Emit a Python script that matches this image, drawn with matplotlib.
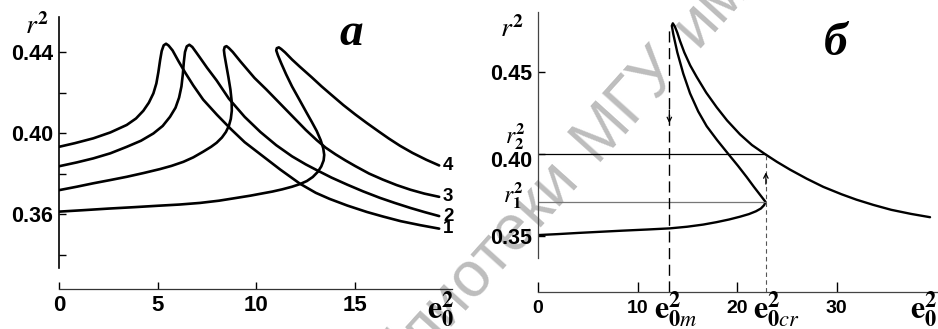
import math
import matplotlib
matplotlib.use('Agg')
import matplotlib.pyplot as plt
from matplotlib.ticker import FixedLocator, FormatStrFormatter
from matplotlib.transforms import ScaledTranslation

plt.rcParams['font.family'] = ['Liberation Sans', 'DejaVu Sans']
plt.rcParams['mathtext.fontset'] = 'stix'

W, H = 938, 329

# ---------------------------------------------------------------------------
# panel a: four resonance curves r^2(e0^2), points in path order
# ---------------------------------------------------------------------------
c1_x = [0, 0.8, 1.74, 2.6, 3.43, 3.9, 4.27, 4.55, 4.78, 4.93, 5.03, 5.12, 5.2,
        5.3, 5.42, 5.55, 5.75, 6.05, 6.38, 6.8, 7.3, 8.0, 8.7, 9.4, 10.2, 11.2,
        12.2, 13.0, 13.7, 14.6, 15.6, 16.4, 17.3, 18.3, 19.25]
c1_y = [0.3932, 0.3950, 0.3974, 0.4003, 0.4040, 0.4072, 0.4110, 0.4150, 0.4196,
        0.4245, 0.4300, 0.4360, 0.4405, 0.4433, 0.4441, 0.4432, 0.4408, 0.4355,
        0.4300, 0.4235, 0.4165, 0.4090, 0.4020, 0.3955, 0.3895, 0.3820, 0.3750,
        0.3705, 0.3675, 0.3642, 0.3610, 0.3588, 0.3565, 0.3545, 0.3528]

c2_x = [0, 0.9, 1.74, 2.6, 3.43, 4.15, 4.78, 5.25, 5.62, 5.9, 6.08, 6.2, 6.27,
        6.32, 6.38, 6.47, 6.6, 6.75, 6.95, 7.14, 7.5, 7.98, 8.6, 9.4, 10.2, 11.0,
        11.8, 12.5, 13.05, 13.8, 14.6, 15.4, 16.25, 17.0, 17.8, 18.5, 19.25]
c2_y = [0.3836, 0.3855, 0.3875, 0.3900, 0.3932, 0.3962, 0.3998, 0.4035, 0.4080,
        0.4125, 0.4175, 0.4230, 0.4290, 0.4350, 0.4400, 0.4428, 0.4436, 0.4425,
        0.4398, 0.4372, 0.4322, 0.4260, 0.4170, 0.4080, 0.4005, 0.3940, 0.3885,
        0.3845, 0.3817, 0.3780, 0.3745, 0.3712, 0.3680, 0.3655, 0.3630, 0.3610,
        0.3590]

c3_x = [0, 0.9, 1.74, 2.6, 3.43, 4.3, 5.11, 5.7, 6.3, 6.8, 7.3, 7.7, 7.98, 8.25,
        8.45, 8.6, 8.7, 8.75, 8.74, 8.68, 8.58, 8.47, 8.38, 8.35, 8.39, 8.48, 8.6,
        8.8, 9.2, 9.9, 10.5, 11.0, 11.5, 12.0, 12.5, 13.05, 13.5, 14.0, 14.5,
        15.0, 15.7, 16.4, 17.1, 17.8, 18.5, 19.25]
c3_y = [0.3718, 0.3735, 0.3752, 0.3768, 0.3784, 0.3803, 0.3822, 0.3838, 0.3858,
        0.3880, 0.3908, 0.3932, 0.3952, 0.3978, 0.4005, 0.4035, 0.4070, 0.4110,
        0.4160, 0.4215, 0.4275, 0.4335, 0.4385, 0.4410, 0.4425, 0.4429, 0.4420,
        0.4400, 0.4352, 0.4272, 0.4215, 0.4165, 0.4115, 0.4065, 0.4015, 0.3965,
        0.3928, 0.3895, 0.3865, 0.3837, 0.3800, 0.3770, 0.3743, 0.3720, 0.3701,
        0.3685]

c4_x = [0, 1.2, 2.5, 3.8, 5.0, 6.1, 7.14, 8.1, 9.0, 9.7, 10.3, 10.8, 11.3, 11.8,
        12.2, 12.55, 12.85, 13.1, 13.28, 13.4, 13.43, 13.38, 13.25, 13.05, 12.8,
        12.54, 12.2, 11.8, 11.5, 11.25, 11.08, 11.0, 11.03, 11.13, 11.25, 11.45,
        11.8, 12.2, 12.8, 13.3, 13.8, 14.4, 15.0, 15.58, 16.2, 16.7, 17.27, 17.9,
        18.6, 19.25]
c4_y = [0.3612, 0.3619, 0.3627, 0.3634, 0.3641, 0.3647, 0.3655, 0.3666, 0.3680,
        0.3691, 0.3702, 0.3711, 0.3722, 0.3735, 0.3748, 0.3763, 0.3783, 0.3808,
        0.3835, 0.3865, 0.3892, 0.3925, 0.3965, 0.4010, 0.4055, 0.4100, 0.4160,
        0.4230, 0.4290, 0.4345, 0.4385, 0.4408, 0.4419, 0.4423, 0.4415, 0.4398,
        0.4363, 0.4327, 0.4275, 0.4230, 0.4188, 0.4138, 0.4092, 0.4050, 0.4007,
        0.3973, 0.3937, 0.3902, 0.3868, 0.3840]

curves_a = [('1', c1_x, c1_y), ('2', c2_x, c2_y), ('3', c3_x, c3_y), ('4', c4_x, c4_y)]

# ---------------------------------------------------------------------------
# panel б: one curve with hysteresis, path order
# ---------------------------------------------------------------------------
b_x = [0, 2.0, 4.0, 6.23, 8.5, 11.0, 13.27, 15.0, 16.6, 17.96, 19.2, 20.3, 21.2,
       21.9, 22.4, 22.72, 22.87, 22.4, 21.7, 20.97, 20.1, 19.13, 18.0, 16.95,
       16.1, 15.28, 14.6, 14.0, 13.6, 13.45, 13.55, 13.75, 14.0, 14.27, 14.7,
       15.3, 15.95, 16.9, 17.96, 19.0, 20.3, 21.5, 22.81, 24.0, 25.33, 27.0,
       28.67, 30.5, 32.0, 33.7, 35.5, 37.5, 39.4]
b_y = [0.3506, 0.3512, 0.3519, 0.3526, 0.3533, 0.3540, 0.3547, 0.3557, 0.3570,
       0.3585, 0.3601, 0.3618, 0.3634, 0.3651, 0.3668, 0.3688, 0.3708, 0.3745,
       0.3800, 0.3860, 0.3928, 0.4000, 0.4085, 0.4170, 0.4260, 0.4370, 0.4490,
       0.4620, 0.4730, 0.4782, 0.4797, 0.4778, 0.4740, 0.4690, 0.4620, 0.4540,
       0.4470, 0.4375, 0.4285, 0.4205, 0.4120, 0.4055, 0.4000, 0.3953, 0.3905,
       0.3850, 0.3800, 0.3755, 0.3722, 0.3690, 0.3660, 0.3635, 0.3615]

E0M = 13.2      # e0m^2
E0CR = 22.9     # e0cr^2
R1 = 0.3707     # r1^2
R2 = 0.400      # r2^2

a_xticks = [0, 5, 10, 15]
a_yticks = [0.36, 0.40, 0.44]
a_yminor = [0.34, 0.38, 0.42]
b_xticks = [0, 10, 20, 30]
b_yticks = [0.35, 0.40, 0.45]


def fpos(x, y):
    """image pixel (y down) -> figure fraction"""
    return x / W, 1 - y / H


fig = plt.figure(figsize=(W / 100, H / 100), dpi=100)
fig.patch.set_facecolor('white')

# faint diagonal watermark
ang = 48
ux, uy = math.cos(math.radians(ang)), math.sin(math.radians(ang))
cx, cy = 626, H - 103
wm = dict(fontsize=46, color='#bdbdbd', rotation=ang, rotation_mode='anchor',
          va='center', zorder=-5)
fig.text(cx / W, cy / H, 'МГУ', ha='center', **wm)
fig.text((cx - 88 * ux) / W, (cy - 88 * uy) / H, 'библиотеки', ha='right', **wm)
fig.text((cx + 88 * ux) / W, (cy + 88 * uy) / H, 'имени', ha='left', **wm)

ax_a = fig.add_axes([59 / W, 40 / H, 393 / W, 272 / H])
ax_b = fig.add_axes([538 / W, 37 / H, 399 / W, 280 / H])

for ax in (ax_a, ax_b):
    ax.set_facecolor('none')
    ax.spines['top'].set_visible(False)
    ax.spines['right'].set_visible(False)

# ---------------- panel a ----------------
for label, xs, ys in curves_a:
    ax_a.plot(xs, ys, color='black', lw=1.9, solid_joinstyle='round',
              solid_capstyle='round')
    ax_a.text(xs[-1] + 0.2, ys[-1], label, fontsize=13.5, fontweight='bold',
              ha='left', va='center', clip_on=False)

ax_a.set_xlim(0, 19.9)
ax_a.set_ylim(0.323, 0.4573)
ax_a.spines['left'].set_bounds(0.3333, 0.4573)
ax_a.spines['left'].set_linewidth(1.2)
ax_a.spines['bottom'].set_linewidth(0.9)
ax_a.spines['bottom'].set_color('#333333')
ax_a.xaxis.set_major_locator(FixedLocator(a_xticks))
ax_a.yaxis.set_major_locator(FixedLocator(a_yticks))
ax_a.yaxis.set_minor_locator(FixedLocator(a_yminor))
ax_a.yaxis.set_major_formatter(FormatStrFormatter('%.2f'))
ax_a.tick_params(axis='x', direction='in', length=5, width=1.0, labelsize=16, pad=4)
ax_a.tick_params(axis='y', which='both', direction='in', length=5, width=1.0,
                 labelsize=15.5, pad=4)

# ---------------- panel б ----------------
ax_b.plot(b_x, b_y, color='black', lw=1.7, solid_joinstyle='round',
          solid_capstyle='round')
ymin_b = 0.3159
ax_b.hlines(R2, 0, E0CR, color='black', lw=0.9)
ax_b.hlines(R1, 0, E0CR, color='#777777', lw=0.9)
ax_b.vlines(E0M, ymin_b, 0.477, color='black', lw=1.0, linestyles=(0, (8, 4)))
ax_b.vlines(E0CR, ymin_b, R2, color='#555555', lw=0.8, linestyles=(0, (4, 3)))
ax_b.annotate('', xy=(E0M, 0.4172), xytext=(E0M, 0.4285),
              arrowprops=dict(arrowstyle='->', lw=0.9, color='black',
                              mutation_scale=8))
ax_b.annotate('', xy=(E0CR, 0.3905), xytext=(E0CR, 0.3800),
              arrowprops=dict(arrowstyle='->', lw=0.9, color='black',
                              mutation_scale=8))

ax_b.set_xlim(0, 40.1)
ax_b.set_ylim(ymin_b, 0.4866)
ax_b.spines['left'].set_bounds(0.3366, 0.4866)
ax_b.spines['left'].set_linewidth(0.9)
ax_b.spines['left'].set_color('#444444')
ax_b.spines['bottom'].set_linewidth(0.9)
ax_b.spines['bottom'].set_color('#444444')
ax_b.xaxis.set_major_locator(FixedLocator(b_xticks))
ax_b.yaxis.set_major_locator(FixedLocator(b_yticks))
ax_b.yaxis.set_major_formatter(FormatStrFormatter('%.2f'))
ax_b.tick_params(axis='x', direction='in', length=7, width=1.0, labelsize=14, pad=6)
ax_b.tick_params(axis='y', direction='in', length=5, width=1.0, labelsize=15.5, pad=4)

for ax in (ax_a, ax_b):
    for lab in ax.get_xticklabels() + ax.get_yticklabels():
        lab.set_fontweight('bold')

# the 0.40 label in panel б sits a little below its line
lab40 = ax_b.yaxis.get_major_ticks()[1].label1
lab40.set_transform(lab40.get_transform() +
                    ScaledTranslation(0, -5 / 100, fig.dpi_scale_trans))

# axis names and panel letters
e_kw = dict(fontsize=23, va='baseline', ha='left', clip_on=False)
ax_a.text(18.63, -29 / 272, r'$\mathbf{e}_{\mathbf{0}}^{\mathbf{2}}$',
          transform=ax_a.get_xaxis_transform(), **e_kw)
ax_b.text(11.7, -26 / 280, r'$\mathbf{e}_{\mathbf{0}\mathit{m}}^{\mathbf{2}}$',
          transform=ax_b.get_xaxis_transform(), **e_kw)
ax_b.text(21.6, -26 / 280, r'$\mathbf{e}_{\mathbf{0}\mathit{cr}}^{\mathbf{2}}$',
          transform=ax_b.get_xaxis_transform(), **e_kw)
ax_b.text(37.4, -26 / 280, r'$\mathbf{e}_{\mathbf{0}}^{\mathbf{2}}$',
          transform=ax_b.get_xaxis_transform(), **e_kw)

fig.text(*fpos(25, 34), r'$r^{\mathbf{2}}$', fontsize=20, ha='left', va='baseline')
fig.text(*fpos(500, 37), r'$r^{\mathbf{2}}$', fontsize=20, ha='left', va='baseline')
fig.text(*fpos(505, 143), r'$r_{\mathbf{2}}^{\mathbf{2}}$', fontsize=17,
         ha='left', va='baseline')
fig.text(*fpos(503, 202), r'$r_{\mathbf{1}}^{\mathbf{2}}$', fontsize=17,
         ha='left', va='baseline')

fig.text(*fpos(351, 45), 'а', fontsize=34, family=['Liberation Serif', 'DejaVu Serif'],
         style='italic', fontweight='bold', ha='center', va='baseline')
fig.text(*fpos(836, 55), 'б', fontsize=34, family=['Liberation Serif', 'DejaVu Serif'],
         style='italic', fontweight='bold', ha='center', va='baseline')

fig.savefig('out.png', dpi=100, facecolor='white')
